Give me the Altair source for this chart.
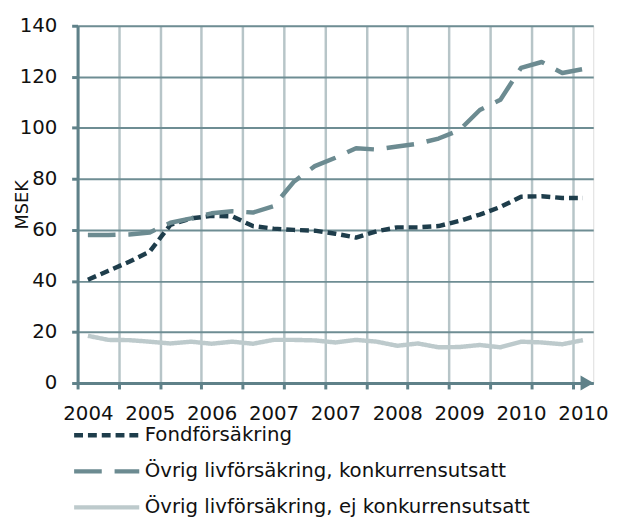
import altair as alt
import pandas as pd

# ---- data -------------------------------------------------------------
x_labels = ["2004", "2005", "2006", "2007", "2007", "2008", "2009", "2010", "2010"]
series_names = [
    "Fondförsäkring",
    "Övrig livförsäkring, konkurrensutsatt",
    "Övrig livförsäkring, ej konkurrensutsatt",
]
fond = [40.5, 44.0, 47.5, 51.5, 62.0, 64.5, 65.5, 65.3, 61.5, 60.5, 60.0, 59.7, 58.5,
        57.0, 59.5, 61.0, 61.0, 61.5, 63.5, 66.0, 69.0, 73.0, 73.2, 72.5, 72.5]
ovrig_k = [58.0, 58.0, 58.2, 59.0, 62.8, 64.5, 66.5, 67.3, 66.8, 69.3, 79.0, 85.0, 88.3,
           92.0, 91.5, 92.7, 93.8, 95.8, 99.0, 107.0, 111.0, 123.5, 125.8, 121.5, 123.0]
ovrig_ej = [18.5, 16.9, 16.8, 16.2, 15.5, 16.2, 15.4, 16.2, 15.4, 16.9, 16.9, 16.7, 15.9,
            16.9, 16.2, 14.6, 15.5, 14.0, 14.1, 14.9, 14.0, 16.2, 15.9, 15.2, 16.8]
y_ticks = [0, 20, 40, 60, 80, 100, 120, 140]

# ---- styles -----------------------------------------------------------
colors = ["#1e3d4b", "#6c8b91", "#bdcacc"]
dashes = [[9, 5], [28, 13], [1, 0]]
axis_color = "#5f8189"
hgrid_color = "#6e8d93"
vgrid_color = "#b7c5c8"
FONT = "DejaVu Sans"
FS = 20

rows = []
for name, vals in zip(series_names, [fond, ovrig_k, ovrig_ej]):
    for i, v in enumerate(vals):
        rows.append({"serie": name, "pos": i + 0.5, "value": v})
df = pd.DataFrame(rows)

n = len(fond)
grid_vals = list(range(0, n, 2))
label_vals = [i * 3 + 0.5 for i in range(len(x_labels))]
lab_arr = "[" + ",".join("'" + s + "'" for s in x_labels) + "]"
label_expr = lab_arr + "[round((datum.value - 0.5) / 3)]"

# axis carrying the vertical grid and the tick marks
x_grid_axis = alt.Axis(
    orient="bottom",
    values=grid_vals,
    labels=False,
    grid=True,
    gridColor=vgrid_color,
    gridWidth=2.5,
    ticks=True,
    tickColor=axis_color,
    tickWidth=3,
    tickSize=6,
    domain=False,
    title=None,
)

# axis carrying the year labels and the axis line
x_label_axis = alt.Axis(
    orient="bottom",
    values=label_vals,
    labelExpr=label_expr,
    labelOverlap=False,
    labelFlush=False,
    grid=False,
    ticks=False,
    domainColor=axis_color,
    domainWidth=3,
    labelFont=FONT,
    labelFontSize=FS,
    labelColor="#111111",
    labelPadding=21,
    title=None,
)

y_axis = alt.Axis(
    values=y_ticks,
    grid=True,
    gridColor=hgrid_color,
    gridWidth=2,
    tickColor=axis_color,
    tickWidth=3,
    tickSize=6,
    domainColor=axis_color,
    domainWidth=3,
    labelFont=FONT,
    labelFontSize=FS,
    labelColor="#111111",
    labelPadding=15,
    title="MSEK",
    titleFont=FONT,
    titleFontSize=18,
    titleFontWeight="normal",
    titleColor="#111111",
    titleAngle=270,
    titleBaseline="alphabetic",
    titleAlign="center",
    titleX=-51,
    titleY=181,
)

x_scale = alt.Scale(domain=[0, n], nice=False, zero=False)
y_scale = alt.Scale(domain=[0, 140], nice=False)

lines = alt.Chart(df).mark_line(strokeWidth=4.5, strokeJoin="round").encode(
    x=alt.X("pos:Q", scale=x_scale, axis=x_label_axis),
    y=alt.Y("value:Q", scale=y_scale, axis=y_axis),
    color=alt.Color(
        "serie:N",
        scale=alt.Scale(domain=series_names, range=colors),
        sort=series_names,
        legend=alt.Legend(
            title=None,
            orient="none",
            legendX=-6,
            legendY=405,
            direction="vertical",
            symbolType="stroke",
            symbolSize=4356,
            symbolStrokeWidth=4.5,
            labelFont=FONT,
            labelFontSize=FS,
            labelColor="#111111",
            labelLimit=700,
            labelOffset=3,
            clipHeight=20,
            rowPadding=16.5,
            padding=0,
        ),
    ),
    strokeDash=alt.StrokeDash(
        "serie:N",
        scale=alt.Scale(domain=series_names, range=dashes),
        sort=series_names,
        legend=None,
    ),
    order=alt.Order("pos:Q"),
)

arrow = alt.Chart(pd.DataFrame({"a": [0]})).mark_point(
    shape="triangle-right", filled=True, size=230, color=axis_color, opacity=1
).encode(
    x=alt.XDatum(n - 0.3, type="quantitative", scale=x_scale, axis=x_grid_axis),
    y=alt.YDatum(0, type="quantitative", scale=y_scale, axis=y_axis),
)

chart = (
    alt.layer(arrow, lines)
    .resolve_axis(x="independent")
    .properties(
        width=522.5,
        height=362,
        autosize=alt.AutoSizeParams(type="none"),
        padding={"left": 70.5, "top": 14.6, "right": 19, "bottom": 135.4},
    )
    .configure_view(stroke=None)
    .configure(background="white")
)

chart.save("out.html", embed_options={"renderer": "svg", "actions": False})
